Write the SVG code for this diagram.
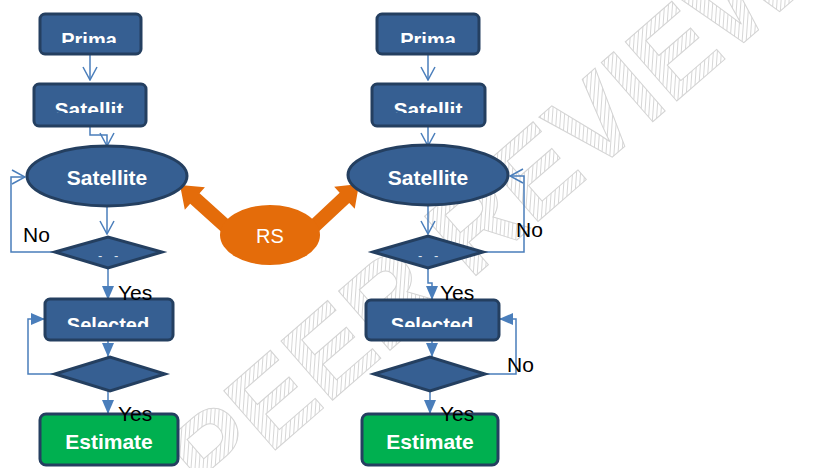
<svg xmlns="http://www.w3.org/2000/svg" width="814" height="468" viewBox="0 0 814 468">
<style>
.box{fill:#365f92;stroke:#243f60;stroke-width:3}
.ell{fill:#365f92;stroke:#243f60;stroke-width:3}
.dia{fill:#365f92;stroke:#243f60;stroke-width:3}
.est{fill:#00b050;stroke:#243f60;stroke-width:3}
.t{font-family:"Liberation Sans",Arial,sans-serif;font-weight:bold;fill:#ffffff;text-anchor:middle}
.lbl{font-family:"Liberation Sans",Arial,sans-serif;font-size:21px;fill:#000000}
.c{fill:none;stroke:#4a7ebb;stroke-width:1.5}
.dash{font-family:"Liberation Sans",Arial,sans-serif;font-size:13px;fill:#dfe6f0;letter-spacing:4px}
.wm{font-family:"Liberation Sans",Arial,sans-serif;font-size:114px;font-weight:bold;fill:url(#hatch);stroke:#d4d4d4;stroke-width:1}
</style>
<defs>
<pattern id="hatch" patternUnits="userSpaceOnUse" width="4" height="4" patternTransform="rotate(45)">
<rect width="4" height="4" fill="#ffffff"/>
<line x1="0" y1="0" x2="0" y2="4" stroke="#d6d6d6" stroke-width="2"/>
</pattern>
<marker id="openV" viewBox="0 0 15 16" refX="14" refY="8" markerWidth="15" markerHeight="16" markerUnits="userSpaceOnUse" orient="auto">
<path d="M1,1 L14,8 L1,15" fill="none" stroke="#4a7ebb" stroke-width="1.5"/>
</marker>
<marker id="fillV" viewBox="0 0 14 12" refX="14" refY="6" markerWidth="14" markerHeight="12" markerUnits="userSpaceOnUse" orient="auto">
<path d="M0,0 L14,6 L0,12 z" fill="#4a7ebb"/>
</marker>
<clipPath id="clipPrima" clipPathUnits="userSpaceOnUse"><rect x="0" y="14" width="814" height="29"/></clipPath>
<clipPath id="clipSat" clipPathUnits="userSpaceOnUse"><rect x="0" y="84" width="814" height="29"/></clipPath>
<clipPath id="clipSel" clipPathUnits="userSpaceOnUse"><rect x="0" y="300" width="814" height="27"/></clipPath>
</defs>

<rect width="814" height="468" fill="#ffffff"/>

<g id="watermark">
<text class="wm" transform="translate(212,505) rotate(-41)">PEER REVIEW</text>
</g>

<g id="connectors">
<g transform="translate(232,232) rotate(-137.95)"><polygon points="0,-7 50,-7 50,-15 70,0 50,15 50,7 0,7" fill="#e46c0a"/></g>
<g transform="translate(308,232) rotate(-43.2)"><polygon points="0,-7 50,-7 50,-15 70,0 50,15 50,7 0,7" fill="#e46c0a"/></g>
<path class="c" d="M90,54 V80" marker-end="url(#openV)"/>
<path class="c" d="M90,126 V135 H107 V146" marker-end="url(#openV)"/>
<path class="c" d="M107,206 V234" marker-end="url(#openV)"/>
<path class="c" d="M55,252 H11 V177 H25" marker-end="url(#openV)"/>
<path class="c" d="M108,268 V300" marker-end="url(#fillV)"/>
<path class="c" d="M108,340 V357" marker-end="url(#fillV)"/>
<path class="c" d="M55,374 H28 V319 H45" marker-end="url(#fillV)"/>
<path class="c" d="M108,391 V414" marker-end="url(#fillV)"/>
<path class="c" d="M428,54 V80" marker-end="url(#openV)"/>
<path class="c" d="M428,126 V146" marker-end="url(#openV)"/>
<path class="c" d="M428,205 V234" marker-end="url(#openV)"/>
<path class="c" d="M483,252 H524 V176 H510" marker-end="url(#openV)"/>
<path class="c" d="M428,268 V283 H432 V300" marker-end="url(#fillV)"/>
<path class="c" d="M432,340 V357" marker-end="url(#fillV)"/>
<path class="c" d="M485,374 H516 V319 H499" marker-end="url(#fillV)"/>
<path class="c" d="M430,391 V414" marker-end="url(#fillV)"/>
</g>

<g id="prima-left"><rect class="box" x="40" y="14" width="101" height="40" rx="5"/><text class="t" x="89" y="47" font-size="20" clip-path="url(#clipPrima)">Prima</text></g>
<g id="satellit-left"><rect class="box" x="34" y="84" width="112" height="42" rx="5"/><text class="t" x="89" y="117" font-size="21" clip-path="url(#clipSat)">Satellit</text></g>
<g id="satellite-left"><ellipse class="ell" cx="107" cy="176" rx="80" ry="30"/><text class="t" x="107" y="185" font-size="21">Satellite</text></g>
<g id="decision1-left"><polygon class="dia" points="55,252 108,237 162,252 108,268"/><text class="dash" x="98" y="260">- -</text></g>
<g id="selected-left"><rect class="box" x="45" y="299" width="128" height="41" rx="5"/><text class="t" x="108" y="332" font-size="20" clip-path="url(#clipSel)">Selected</text></g>
<g id="decision2-left"><polygon class="dia" points="55,374 110,357 165,374 110,391"/></g>
<g id="estimate-left"><rect class="est" x="40" y="414" width="138" height="51" rx="6"/><text class="t" x="109" y="449" font-size="21">Estimate</text></g>

<g id="rs"><ellipse cx="270" cy="235" rx="50" ry="30" fill="#e46c0a"/><text x="270" y="243" font-family="Liberation Sans,Arial,sans-serif" font-size="20" fill="#ffffff" text-anchor="middle">RS</text></g>

<g id="prima-right"><rect class="box" x="377" y="14" width="102" height="40" rx="5"/><text class="t" x="428" y="47" font-size="20" clip-path="url(#clipPrima)">Prima</text></g>
<g id="satellit-right"><rect class="box" x="372" y="84" width="113" height="42" rx="5"/><text class="t" x="428" y="117" font-size="21" clip-path="url(#clipSat)">Satellit</text></g>
<g id="satellite-right"><ellipse class="ell" cx="428" cy="175" rx="80" ry="30"/><text class="t" x="428" y="185" font-size="21">Satellite</text></g>
<g id="decision1-right"><polygon class="dia" points="373,252 428,236 483,252 428,268"/><text class="dash" x="418" y="260">- -</text></g>
<g id="selected-right"><rect class="box" x="366" y="300" width="133" height="40" rx="5"/><text class="t" x="432" y="332" font-size="20" clip-path="url(#clipSel)">Selected</text></g>
<g id="decision2-right"><polygon class="dia" points="374,374 430,357 485,374 430,391"/></g>
<g id="estimate-right"><rect class="est" x="362" y="414" width="136" height="51" rx="6"/><text class="t" x="430" y="449" font-size="21">Estimate</text></g>

<g id="labels">
<text class="lbl" x="23" y="242">No</text>
<text class="lbl" x="118" y="300">Yes</text>
<text class="lbl" x="118" y="421">Yes</text>
<text class="lbl" x="516" y="237">No</text>
<text class="lbl" x="440" y="300">Yes</text>
<text class="lbl" x="507" y="372">No</text>
<text class="lbl" x="440" y="421">Yes</text>
</g>
</svg>
